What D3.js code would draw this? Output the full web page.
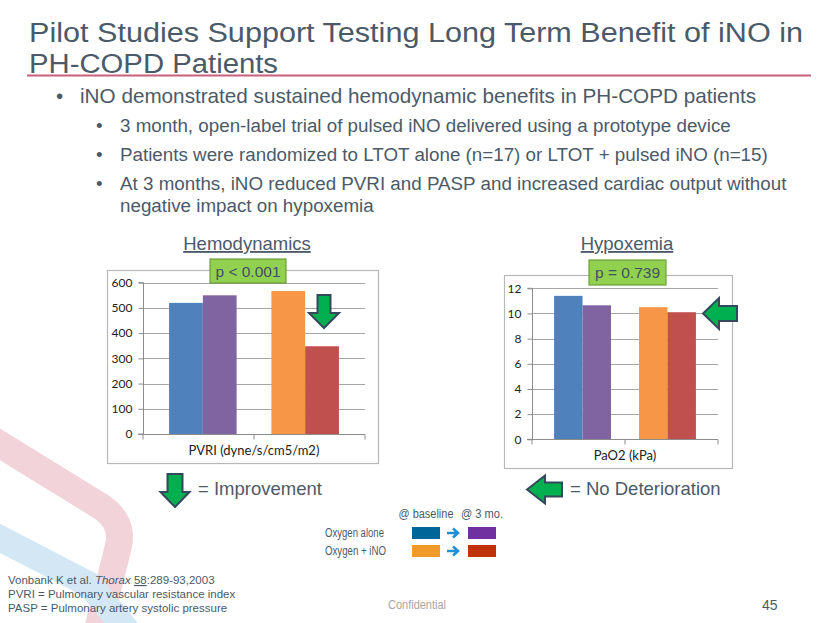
<!DOCTYPE html>
<html>
<head>
<meta charset="utf-8">
<script src="https://cdn.jsdelivr.net/npm/d3@7"></script>
<style>
  html, body { margin: 0; padding: 0; background: #ffffff; }
  svg { display: block; }
</style>
</head>
<body>
<svg id="slide" width="830" height="623"></svg>
<script>
// ---------------- DATA ----------------
const groups = ["Oxygen alone", "Oxygen + iNO"];
const timepoints = ["@ baseline", "@ 3 mo."];
const pvriBaseline = [520, 567];
const pvri3mo = [550, 348];
const pao2Baseline = [11.4, 10.5];
const pao23mo = [10.65, 10.1];
const pvriTicks = [0, 100, 200, 300, 400, 500, 600];
const pao2Ticks = [0, 2, 4, 6, 8, 10, 12];
const barColors = [["#4f81bd", "#8064a2"], ["#f79646", "#c0504d"]];
const legendColors = [["#006699", "#7030a0"], ["#f09a2c", "#c0330a"]];

const titleLines = ["Pilot Studies Support Testing Long Term Benefit of iNO in", "PH-COPD Patients"];
const bullets = [
  {level: 1, lines: ["iNO demonstrated sustained hemodynamic benefits in PH-COPD patients"]},
  {level: 2, lines: ["3 month, open-label trial of pulsed iNO delivered using a prototype device"]},
  {level: 2, lines: ["Patients were randomized to LTOT alone (n=17) or LTOT + pulsed iNO (n=15)"]},
  {level: 2, lines: ["At 3 months, iNO reduced PVRI and PASP and increased cardiac output without", "negative impact on hypoxemia"]}
];

const svg = d3.select("#slide");
const textColor = "#4b5a69";
const sans = "Liberation Sans, Arial, sans-serif";

// ---------------- background decoration ----------------
const deco = svg.append("g");
deco.append("path")
  .attr("d", "M-20,432 L100,506 Q125,522 118,548 L95,640")
  .attr("fill", "none").attr("stroke", "#f2d3d9").attr("stroke-width", 27).attr("stroke-linejoin", "round");
deco.append("path")
  .attr("d", "M-20,528 L90,585 L135,640")
  .attr("fill", "none").attr("stroke", "#d3e8f4").attr("stroke-width", 26);

// ---------------- title ----------------
const titleLen = [774, 249];
titleLines.forEach((t, i) => {
  svg.append("text").attr("font-family", sans).attr("font-size", 27).attr("fill", textColor)
    .attr("x", 29).attr("y", 42 + i * 30.5)
    .attr("textLength", titleLen[i]).attr("lengthAdjust", "spacingAndGlyphs").text(t);
});
svg.append("line").attr("x1", 27).attr("x2", 811).attr("y1", 75.5).attr("y2", 75.5)
  .attr("stroke", "#c9607c").attr("stroke-width", 2);

// ---------------- bullets ----------------
const by = [103, 132, 161, 190];
bullets.forEach((b, i) => {
  const fs = b.level === 1 ? 20.7 : 18.8;
  const bx = b.level === 1 ? 56 : 96;
  const tx = b.level === 1 ? 80 : 120;
  svg.append("text").attr("x", bx).attr("y", by[i]).attr("font-family", sans)
    .attr("font-size", fs).attr("fill", textColor).text("•");
  b.lines.forEach((l, j) => {
    svg.append("text").attr("x", tx).attr("y", by[i] + j * 21.5).attr("font-family", sans)
      .attr("font-size", fs).attr("fill", textColor).text(l);
  });
});

// ---------------- arrow helpers ----------------
function downArrow(g, cx, top, w, shaftW, headStart, bottom) {
  const d = `M${cx - shaftW / 2},${top} L${cx + shaftW / 2},${top} L${cx + shaftW / 2},${headStart} L${cx + w / 2},${headStart} L${cx},${bottom} L${cx - w / 2},${headStart} L${cx - shaftW / 2},${headStart} Z`;
  g.append("path").attr("d", d).attr("fill", "#00b050").attr("stroke", "#34495a").attr("stroke-width", 2).attr("stroke-linejoin", "miter");
}
function leftArrow(g, tip, cy, h, shaftH, headEnd, right) {
  const d = `M${tip},${cy} L${headEnd},${cy - h / 2} L${headEnd},${cy - shaftH / 2} L${right},${cy - shaftH / 2} L${right},${cy + shaftH / 2} L${headEnd},${cy + shaftH / 2} L${headEnd},${cy + h / 2} Z`;
  g.append("path").attr("d", d).attr("fill", "#00b050").attr("stroke", "#34495a").attr("stroke-width", 2).attr("stroke-linejoin", "miter");
}

// ---------------- chart builder ----------------
function barChart(cfg) {
  const g = svg.append("g");
  g.append("rect").attr("x", cfg.box[0] + 0.5).attr("y", cfg.box[1] + 0.5)
    .attr("width", cfg.box[2] - cfg.box[0]).attr("height", cfg.box[3] - cfg.box[1])
    .attr("fill", "#ffffff").attr("stroke", "#b8b8b8").attr("stroke-width", 1.2);

  const y = d3.scaleLinear().domain([0, cfg.ticks[cfg.ticks.length - 1]]).range([cfg.y0, cfg.yTop]);
  const x = d3.scaleBand().domain(groups).range([cfg.plotL, cfg.plotR]).paddingInner(cfg.padIn).paddingOuter(cfg.padOut);
  const xs = d3.scaleBand().domain(timepoints).range([0, x.bandwidth()]);

  g.append("g").selectAll("line").data(cfg.ticks.filter(t => t > 0)).join("line")
    .attr("x1", cfg.plotL).attr("x2", cfg.plotR)
    .attr("y1", d => Math.round(y(d)) + 0.5).attr("y2", d => Math.round(y(d)) + 0.5)
    .attr("stroke", "#a6a6a6").attr("stroke-width", 1);

  const ya = g.append("g").attr("transform", `translate(${cfg.plotL + 0.5},0)`)
    .call(d3.axisLeft(y).tickValues(cfg.ticks).tickSize(5).tickPadding(6));
  ya.select(".domain").attr("stroke", "#8c8c8c").attr("d", `M-5,${y(0)}H0V${y(cfg.ticks[cfg.ticks.length-1])}H-5`);
  ya.selectAll(".tick line").attr("stroke", "#8c8c8c");
  ya.selectAll("text").attr("font-family", "Lato, Carlito, sans-serif").attr("font-size", 12).attr("fill", "#222");

  groups.forEach((grp, gi) => {
    const vals = [cfg.base[gi], cfg.post[gi]];
    g.append("g").selectAll("rect").data(vals).join("rect")
      .attr("x", (d, i) => x(grp) + xs(timepoints[i]))
      .attr("width", xs.bandwidth())
      .attr("y", d => y(d))
      .attr("height", d => y(0) - y(d))
      .attr("fill", (d, i) => barColors[gi][i]);
  });

  const xl = g.append("g").attr("transform", `translate(0,${Math.round(y(0)) + 0.5})`);
  xl.append("line").attr("x1", cfg.plotL - 5).attr("x2", cfg.plotR).attr("stroke", "#8c8c8c");
  [cfg.plotL, (cfg.plotL + cfg.plotR) / 2, cfg.plotR].forEach(px => {
    xl.append("line").attr("x1", px).attr("x2", px).attr("y1", 0).attr("y2", 5).attr("stroke", "#8c8c8c");
  });
  g.append("text").attr("x", (cfg.plotL + cfg.plotR) / 2).attr("y", cfg.xLabelY)
    .attr("text-anchor", "middle").attr("font-family", "Lato, Carlito, sans-serif").attr("font-size", 13)
    .attr("fill", "#222").text(cfg.xLabel);

  g.append("text").attr("x", cfg.headX).attr("y", 250).attr("text-anchor", "middle")
    .attr("font-family", sans).attr("font-size", 18.5).attr("fill", textColor)
    .attr("text-decoration", "underline").text(cfg.heading);

  g.append("rect").attr("x", cfg.pBox[0]).attr("y", cfg.pBox[1]).attr("width", cfg.pBox[2] - cfg.pBox[0])
    .attr("height", cfg.pBox[3] - cfg.pBox[1]).attr("fill", "#92d050").attr("stroke", "#6f9f3a").attr("stroke-width", 1.2);
  g.append("text").attr("x", (cfg.pBox[0] + cfg.pBox[2]) / 2).attr("y", (cfg.pBox[1] + cfg.pBox[3]) / 2 + 5.5)
    .attr("text-anchor", "middle").attr("font-family", sans).attr("font-size", 15.5)
    .attr("fill", "#3f5060").text(cfg.pText);
  return {g, x, y, xs};
}

barChart({
  box: [107, 270, 378, 463], plotL: 143, plotR: 365, y0: 434, yTop: 282.7,
  padIn: 0.34, padOut: 0.255, ticks: pvriTicks, base: pvriBaseline, post: pvri3mo,
  xLabel: "PVRI (dyne/s/cm5/m2)", xLabelY: 455, heading: "Hemodynamics", headX: 247,
  pBox: [210, 259, 286, 283], pText: "p < 0.001"
});
barChart({
  box: [504, 275, 732, 468], plotL: 532, plotR: 718, y0: 439.3, yTop: 288.3,
  padIn: 0.33, padOut: 0.26, ticks: pao2Ticks, base: pao2Baseline, post: pao23mo,
  xLabel: "PaO2 (kPa)", xLabelY: 460, heading: "Hypoxemia", headX: 627,
  pBox: [589, 260, 666, 285], pText: "p = 0.739"
});

// in-chart arrows
downArrow(svg, 324, 295, 30, 13, 313, 328);
leftArrow(svg, 703, 313.5, 31, 15, 719, 737);

// legend arrows
downArrow(svg, 175, 474, 29, 15, 492, 507);
svg.append("text").attr("x", 198).attr("y", 495).attr("font-family", sans)
  .attr("font-size", 18.5).attr("fill", textColor).text("= Improvement");
leftArrow(svg, 527, 489.5, 28, 14, 545, 562);
svg.append("text").attr("x", 570).attr("y", 495).attr("font-family", sans)
  .attr("font-size", 18.5).attr("fill", textColor).text("= No Deterioration");

// ---------------- colour key ----------------
const key = svg.append("g").attr("font-family", sans).attr("font-size", 12.5).attr("fill", textColor);
const colX = [412, 468];
const tpLen = [55, 42];
const grpLen = [59, 61];
timepoints.forEach((t, i) => key.append("text").attr("x", colX[i] + 14 - tpLen[i] / 2).attr("y", 518)
  .attr("textLength", tpLen[i]).attr("lengthAdjust", "spacingAndGlyphs").text(t));
groups.forEach((grp, gi) => {
  const ry = 527 + gi * 18;
  key.append("text").attr("x", 325).attr("y", ry + 10).attr("textLength", grpLen[gi])
    .attr("lengthAdjust", "spacingAndGlyphs").text(grp);
  timepoints.forEach((t, i) => {
    key.append("rect").attr("x", colX[i]).attr("y", ry).attr("width", 28).attr("height", 12).attr("fill", legendColors[gi][i]);
  });
  key.append("path").attr("d", `M447,${ry + 6}H458M453,${ry + 1.5}L458,${ry + 6}L453,${ry + 10.5}`)
    .attr("fill", "none").attr("stroke", "#1f8fd6").attr("stroke-width", 2.5);
});

// ---------------- footer ----------------
const foot = svg.append("g").attr("font-family", sans).attr("font-size", 11.5).attr("fill", textColor);
const f1 = foot.append("text").attr("x", 8).attr("y", 584);
f1.append("tspan").text("Vonbank K et al. ");
f1.append("tspan").attr("font-style", "italic").text("Thorax");
f1.append("tspan").text(" ");
f1.append("tspan").attr("text-decoration", "underline").text("58");
f1.append("tspan").text(":289-93,2003");
foot.append("text").attr("x", 8).attr("y", 598).text("PVRI = Pulmonary vascular resistance index");
foot.append("text").attr("x", 8).attr("y", 612).text("PASP = Pulmonary artery systolic pressure");
svg.append("text").attr("x", 388).attr("y", 609).attr("font-family", sans)
  .attr("font-size", 12.5).attr("fill", "#a6a6a6").attr("textLength", 58).attr("lengthAdjust", "spacingAndGlyphs").text("Confidential");
svg.append("text").attr("x", 762).attr("y", 610).attr("font-family", sans)
  .attr("font-size", 14).attr("fill", textColor).text("45");
</script>
</body>
</html>
